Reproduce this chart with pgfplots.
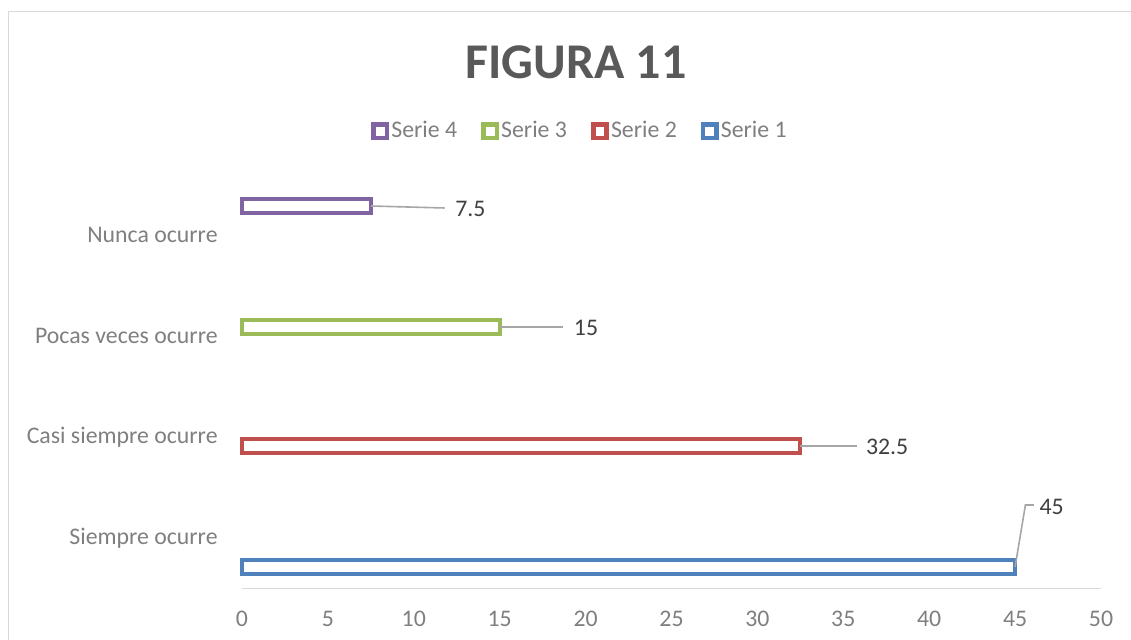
\documentclass[border=0pt]{standalone}
\usepackage{fontspec}
\setmainfont{Carlito}
\usepackage{pgfplots}
\pgfplotsset{compat=1.18}
\definecolor{sA}{HTML}{4F81BD}
\definecolor{sB}{HTML}{C0504D}
\definecolor{sC}{HTML}{9BBB59}
\definecolor{sD}{HTML}{8064A2}
\definecolor{titlec}{HTML}{595959}
\definecolor{lblc}{HTML}{404040}
\definecolor{tickc}{HTML}{7F7F7F}
\definecolor{framec}{HTML}{D9D9D9}
\definecolor{leaderc}{HTML}{A6A6A6}
\begin{document}
\begin{tikzpicture}[x=1pt,y=1pt]
\useasboundingbox (0,0) rectangle (565.5,320);
\draw[framec, line width=0.8pt] (4.25,-20) -- (4.25,314.25) -- (600,314.25);
\node[font=\fontsize{25}{30}\selectfont\bfseries, text=titlec] at (288,289) {FIGURA 11};
\begin{axis}[
  at={(121pt,25.75pt)}, anchor=south west,
  scale only axis, width=429.5pt, height=202pt,
  xbar, bar width=7pt,
  xmin=0, xmax=50, ymin=-0.5, ymax=3.5,
  xtick={0,5,...,50},
  ytick={0,1,2,3},
  yticklabels={Siempre ocurre, Casi siempre ocurre, Pocas veces ocurre, Nunca ocurre},
  axis x line*=bottom, axis y line*=left,
  y axis line style={draw=none},
  x axis line style={draw=framec, line width=0.8pt, -},
  major tick length=0pt,
  /pgf/number format/assume math mode=true,
  tick label style={font=\fontsize{11.9}{14}\selectfont, text=tickc},
  yticklabel style={inner sep=0pt, anchor=east, xshift=-12pt},
  xticklabel style={inner sep=0pt, anchor=north, yshift=-11pt},
  legend columns=4, reverse legend,
  legend style={draw=none, fill=none, at={(0.3935,1.132)}, anchor=center,
    font=\fontsize{11.9}{14}\selectfont, text=tickc,
    /tikz/every even column/.append style={column sep=11pt},
    nodes={inner sep=1pt}},
  legend image code/.code={\draw[line width=2.3pt, fill=white, #1] (1.15pt,-3.35pt) rectangle (7.85pt,3.35pt);},
  clip=false,
]
\addplot[draw=sA, fill=white, line width=2pt, bar shift=-14.5pt] coordinates {(45,0)};
\addlegendentry{Serie 1}
\addplot[draw=sB, fill=white, line width=2pt, bar shift=-4.5pt] coordinates {(32.5,1)};
\addlegendentry{Serie 2}
\addplot[draw=sC, fill=white, line width=2pt, bar shift=4.5pt] coordinates {(15,2)};
\addlegendentry{Serie 3}
\addplot[draw=sD, fill=white, line width=2pt, bar shift=14.5pt] coordinates {(7.5,3)};
\addlegendentry{Serie 4}
% data labels with leader lines
\draw[leaderc, line width=0.8pt] ([yshift=14.5pt]axis cs:7.5,3) -- ([yshift=13.5pt]axis cs:11.8,3);
\node[anchor=west, inner sep=0pt, text=lblc, font=\fontsize{11.9}{14}\selectfont] at ([yshift=13pt]axis cs:12.4,3) {7.5};
\draw[leaderc, line width=0.8pt] ([yshift=4.5pt]axis cs:15,2) -- ([yshift=4.5pt]axis cs:18.7,2);
\node[anchor=west, inner sep=0pt, text=lblc, font=\fontsize{11.9}{14}\selectfont] at ([yshift=4pt]axis cs:19.3,2) {15};
\draw[leaderc, line width=0.8pt] ([yshift=-4.5pt]axis cs:32.5,1) -- ([yshift=-4.5pt]axis cs:35.8,1);
\node[anchor=west, inner sep=0pt, text=lblc, font=\fontsize{11.9}{14}\selectfont] at ([yshift=-5pt]axis cs:36.3,1) {32.5};
\draw[leaderc, line width=0.8pt] ([yshift=-14.5pt]axis cs:45,0) -- ([yshift=16.5pt]axis cs:45.6,0) -- ([yshift=16.5pt]axis cs:46.1,0);
\node[anchor=west, inner sep=0pt, text=lblc, font=\fontsize{11.9}{14}\selectfont] at ([yshift=15.5pt]axis cs:46.4,0) {45};
\end{axis}
\end{tikzpicture}
\end{document}
